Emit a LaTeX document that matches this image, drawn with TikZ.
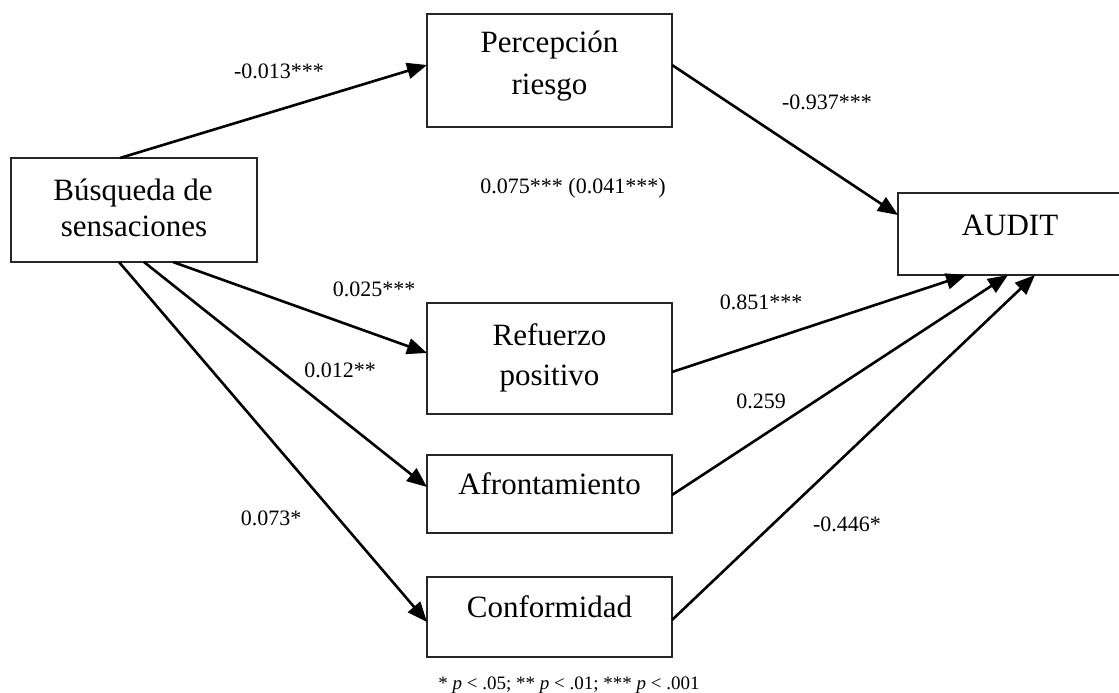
\documentclass[tikz,border=0pt]{standalone}
\usepackage{fontspec}
\setmainfont{Liberation Serif}
\usetikzlibrary{arrows.meta,calc}
\begin{document}
\begin{tikzpicture}[x=1pt,y=-1pt,
  box/.style={draw=black!85, line width=2pt, fill=white, inner sep=0pt, outer sep=0pt},
  boxtext/.style={font=\fontsize{31}{37}\selectfont, anchor=base, inner sep=0pt},
  coef/.style={font=\fontsize{22}{26}\selectfont, anchor=base, inner sep=0pt},
  foot/.style={font=\fontsize{19}{23}\selectfont, anchor=base, inner sep=0pt},
  link/.style={line width=2.6pt, -{Triangle[length=20pt,width=16pt]}}]
\useasboundingbox (0,0) rectangle (1119,693);
\clip (0,0) rectangle (1119,693);
% boxes
\node[box, minimum width=246pt, minimum height=104pt] (bus) at (134,210) {};
\node[box, minimum width=245pt, minimum height=113pt] (per) at (549.5,70.5) {};
\node[box, minimum width=245pt, minimum height=111pt] (ref) at (549.5,358.5) {};
\node[box, minimum width=245pt, minimum height=78pt] (afr) at (549.5,494) {};
\node[box, minimum width=245pt, minimum height=80pt] (con) at (549.5,617) {};
\node[box, minimum width=224pt, minimum height=82pt] (aud) at (1010,234) {};
% box texts
\node[boxtext] (perA) at (549.5,53) {Percepción};
\node[boxtext] (perB) at (549.5,95) {riesgo};
\node[boxtext] (busA) at (133,200) {Búsqueda de};
\node[boxtext] (busB) at (134,236) {sensaciones};
\node[boxtext] (refA) at (549.5,345) {Refuerzo};
\node[boxtext] (refB) at (549.5,385) {positivo};
\node[boxtext] (afrT) at (549.5,494) {Afrontamiento};
\node[boxtext] (conT) at (549.5,617) {Conformidad};
\node[boxtext] (audT) at (1010,235) {AUDIT};
% connectors
\draw[link] ($(bus.north west)+(109,0)$) -- ($(per.north west)+(0,51)$);
\draw[link] ($(per.north east)+(0,51)$) -- ($(aud.north west)+(0,22)$);
\draw[link] ($(bus.south west)+(162,0)$) -- ($(ref.north west)+(0,50)$);
\draw[link] ($(bus.south west)+(133,0)$) -- ($(afr.north west)+(0,32)$);
\draw[link] ($(bus.south west)+(108,0)$) -- ($(con.north west)+(0,45)$);
\draw[link] ($(ref.north east)+(0,69)$) -- ($(aud.south west)+(68,0)$);
\draw[link] ($(afr.north east)+(0,40)$) -- ($(aud.south west)+(110,0)$);
\draw[link] ($(con.north east)+(0,43)$) -- ($(aud.south west)+(137,0)$);
% coefficients
\node[coef] (c1) at (279,78) {-0.013***};
\node[coef] (c2) at (827,110) {-0.937***};
\node[coef] (c3) at (573,193) {0.075*** (0.041***)};
\node[coef] (c4) at (374,296) {0.025***};
\node[coef] (c5) at (761,309) {0.851***};
\node[coef] (c6) at (340,377) {0.012**};
\node[coef] (c7) at (761,408) {0.259};
\node[coef] (c8) at (271,525) {0.073*};
\node[coef] (c9) at (847,531) {-0.446*};
\node[foot] (fn) at (569,689) {* \textit{p} < .05; ** \textit{p} < .01; *** \textit{p} < .001};
\end{tikzpicture}
\end{document}
